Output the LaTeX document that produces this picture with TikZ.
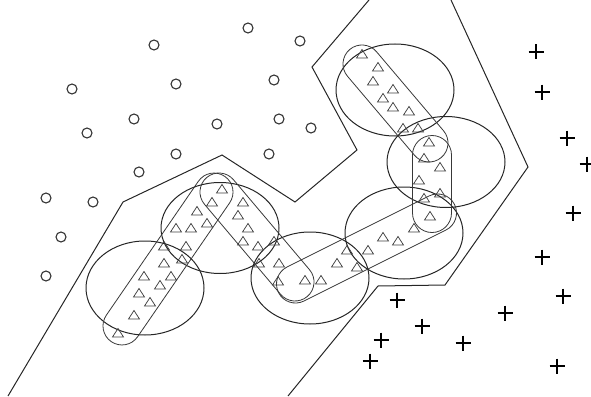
\documentclass[tikz,border=0pt]{standalone}
\usetikzlibrary{shapes.geometric,shapes.misc}
\begin{document}
\begin{tikzpicture}[x=1pt,y=-1pt,
  bigcirc/.style={draw=black!85, line width=1pt, ellipse, minimum width=118pt, inner sep=0pt, outer sep=0pt},
  capsule/.style={draw=black!78, line width=0.8pt, rounded rectangle, inner sep=0pt, outer sep=0pt, minimum height=38pt},
  dot/.style={draw=black!80, circle, line width=1.1pt, minimum size=10pt, inner sep=0pt},
  bound/.style={draw=black!85, line width=1pt},
  tri/.style={draw=black!75, line width=0.75pt},
  plusmark/.style={draw=black, line width=1.6pt}]
\useasboundingbox (0,0) rectangle (591,396);

% boundary lines
\coordinate (l1) at (369,0);
\coordinate (l2) at (312,67);
\coordinate (l3) at (357,150);
\coordinate (l4) at (295,202);
\coordinate (l5) at (222,155);
\coordinate (l6) at (123,202);
\coordinate (l7) at (8,396);
\draw[bound] (l1) -- (l2) -- (l3) -- (l4) -- (l5) -- (l6) -- (l7);
\coordinate (r1) at (451,0);
\coordinate (r2) at (528,167);
\coordinate (r3) at (445,285);
\coordinate (r4) at (378,286);
\coordinate (r5) at (288,396);
\draw[bound] (r1) -- (r2) -- (r3) -- (r4) -- (r5);

% big circles
\node[bigcirc, minimum height=92pt] (e1) at (395,90) {};
\node[bigcirc, minimum height=91pt] (e2) at (446,162) {};
\node[bigcirc, minimum height=92pt] (e3) at (404,233) {};
\node[bigcirc, minimum height=92pt] (e4) at (310,278) {};
\node[bigcirc, minimum height=91pt] (e5) at (220,228) {};
\node[bigcirc, minimum height=94pt] (e6) at (145,288) {};

% capsules
\node[capsule, minimum width=200.5pt, rotate=55.5] (ca) at (168,259) {};
\node[capsule, minimum width=155.8pt, rotate=-49.8] (cb) at (257,237) {};
\node[capsule, minimum width=196.8pt, rotate=26.57] (cc) at (366.5,248.5) {};
\node[capsule, minimum width=97pt, minimum height=39pt, rotate=90] (cd) at (432,184) {};
\node[capsule, minimum width=141.6pt, rotate=-49.7] (ce) at (395.5,103.5) {};

% triangles
\foreach \x/\y in {222/189,212/202,243/202,197/211,238/215,176/228,191/228,207/223,248/228,
  186/246,243/241,258/246,274/241,164/246,182/259,164/263,144/276,171/276,160/285,139/293,
  150/302,134/315,118/333,259/263,279/263,278/281,305/280,321/280,337/263,347/250,357/267,
  368/250,383/237,398/241,414/228,430/216,424/198,440/193,419/180,440/167,424/158,429/142,
  403/128,418/128,409/111,393/107,383/98,393/89,373/81,378/67,362/54}
  \draw[tri] (\x-5.5,\y+4) -- (\x+5.5,\y+4) -- (\x,\y-4.5) -- cycle;

% small circles
\foreach \x/\y [count=\i] in {248/28,300/41,154/45,72/89,176/84,274/80,134/119,87/133,217/124,
  279/119,311/128,176/154,269/154,139/172,46/198,93/202,61/237,46/276}
  \node[dot] (o\i) at (\x,\y) {};

% plus signs
\foreach \x/\y in {536/52,542/92,567/138,587/164,573/213,542/257,563/296,505/313,397/300,
  422/326,381/340,463/343,370/361,557/366}
  \draw[plusmark] (\x-7.5,\y) -- (\x+7.5,\y) (\x,\y-7.5) -- (\x,\y+7.5);
\end{tikzpicture}
\end{document}
